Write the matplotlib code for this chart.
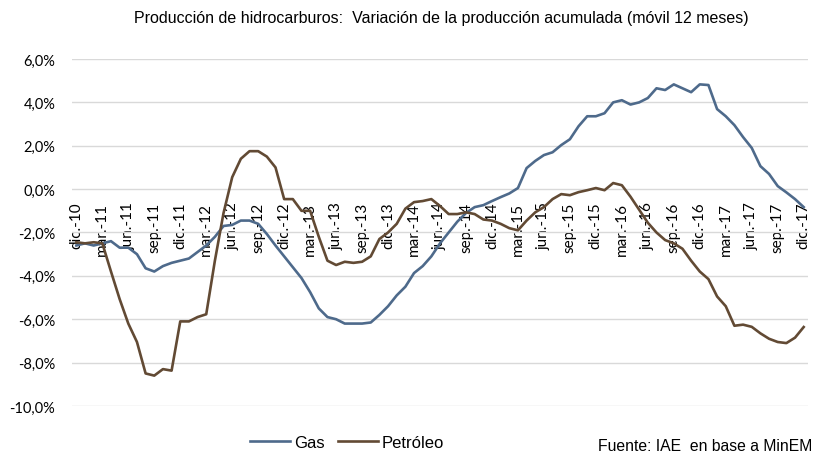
import matplotlib.pyplot as plt
import numpy as np

# variación de la producción acumulada móvil 12 meses (%), dic-10 a dic-17
gas = [-2.6, -2.5, -2.6, -2.5, -2.4, -2.7, -2.7, -3.0, -3.65, -3.8,
       -3.55, -3.4, -3.3, -3.2, -2.9, -2.6, -2.2, -1.7, -1.65, -1.45,
       -1.45, -1.6, -2.07, -2.6, -3.1, -3.6, -4.1, -4.75, -5.5, -5.9,
       -6.0, -6.2, -6.2, -6.2, -6.15, -5.8, -5.4, -4.9, -4.5, -3.87,
       -3.55, -3.1, -2.5, -2.0, -1.5, -1.1, -0.83, -0.74, -0.55, -0.37,
       -0.2, 0.05, 0.97, 1.3, 1.57, 1.7, 2.03, 2.3, 2.9, 3.36,
       3.36, 3.5, 4.0, 4.1, 3.9, 4.0, 4.2, 4.65, 4.57, 4.83,
       4.65, 4.47, 4.83, 4.8, 3.69, 3.36, 2.95, 2.4, 1.9, 1.06,
       0.7, 0.14, -0.15, -0.46, -0.83]

petroleo = [-2.45, -2.5, -2.45, -2.5, -3.8, -5.07, -6.2, -7.05, -8.5, -8.6,
            -8.3, -8.37, -6.1, -6.1, -5.9, -5.77, -3.3, -1.1, 0.55, 1.4,
            1.75, 1.75, 1.5, 1.0, -0.46, -0.46, -1.0, -1.0, -2.2, -3.3,
            -3.5, -3.35, -3.4, -3.35, -3.1, -2.3, -2.0, -1.6, -0.9, -0.6,
            -0.55, -0.46, -0.78, -1.15, -1.15, -1.07, -1.15, -1.4, -1.45, -1.6,
            -1.8, -1.9, -1.45, -1.07, -0.83, -0.46, -0.23, -0.28, -0.14, -0.05,
            0.05, -0.05, 0.28, 0.18, -0.35, -0.95, -1.55, -2.0, -2.35, -2.5,
            -2.75, -3.3, -3.8, -4.15, -4.95, -5.4, -6.3, -6.25, -6.35, -6.65,
            -6.9, -7.05, -7.1, -6.85, -6.36]

etiquetas = ['dic.-10', 'mar.-11', 'jun.-11', 'sep.-11', 'dic.-11', 'mar.-12',
             'jun.-12', 'sep.-12', 'dic.-12', 'mar.-13', 'jun.-13', 'sep.-13',
             'dic.-13', 'mar.-14', 'jun.-14', 'sep.-14', 'dic.-14', 'mar.-15',
             'jun.-15', 'sep.-15', 'dic.-15', 'mar.-16', 'jun.-16', 'sep.-16',
             'dic.-16', 'mar.-17', 'jun.-17', 'sep.-17', 'dic.-17']
paso_etiquetas = 3

y_ticks = [-10, -8, -6, -4, -2, 0, 2, 4, 6]

x = np.arange(len(gas))

fig = plt.figure(figsize=(8.24, 4.56), dpi=100)
ax = fig.add_axes([0.0874, 0.1075, 0.8932, 0.7609])

ax.plot(x, gas, color='#4e6a8b', lw=1.9, label='Gas', solid_joinstyle='round', zorder=3)
ax.plot(x, petroleo, color='#624a34', lw=1.9, label='Petróleo', solid_joinstyle='round', zorder=3)

# eje horizontal cruzando en 0 (antes de fijar etiquetas, porque reinicia los ticks)
for s in ['top', 'right', 'left']:
    ax.spines[s].set_visible(False)
ax.spines['bottom'].set_position(('data', 0))
ax.spines['bottom'].set_visible(False)

ax.set_xlim(-0.5, len(gas) - 0.5)
ax.set_ylim(-10, 6)
ax.set_yticks(y_ticks)
ax.set_yticklabels([f'{v:.1f}%'.replace('.', ',') for v in y_ticks],
                   fontfamily='Lato', fontsize=10.5)
ax.set_xticks(x[::paso_etiquetas])
ax.set_xticklabels(etiquetas, rotation=90, fontfamily='Lato', fontsize=11)

ax.grid(axis='y', color='#d9d9d9', lw=1)
ax.set_axisbelow(True)
ax.tick_params(axis='both', length=0)
ax.tick_params(axis='y', pad=12)
ax.tick_params(axis='x', pad=9)

fig.text(0.535, 0.96, 'Producción de hidrocarburos:  Variación de la producción acumulada (móvil 12 meses)',
         ha='center', va='center', fontfamily='Liberation Sans', fontsize=11.5)

fig.legend(loc='center', bbox_to_anchor=(0.421, 0.028), ncol=2, frameon=False,
           prop={'family': 'Liberation Sans', 'size': 12}, handlelength=2.4,
           columnspacing=0.8, handletextpad=0.25)
fig.text(0.986, 0.02, 'Fuente: IAE  en base a MinEM', ha='right', va='center',
         fontfamily='Liberation Sans', fontsize=11.3)

fig.savefig('out.png', dpi=100)
